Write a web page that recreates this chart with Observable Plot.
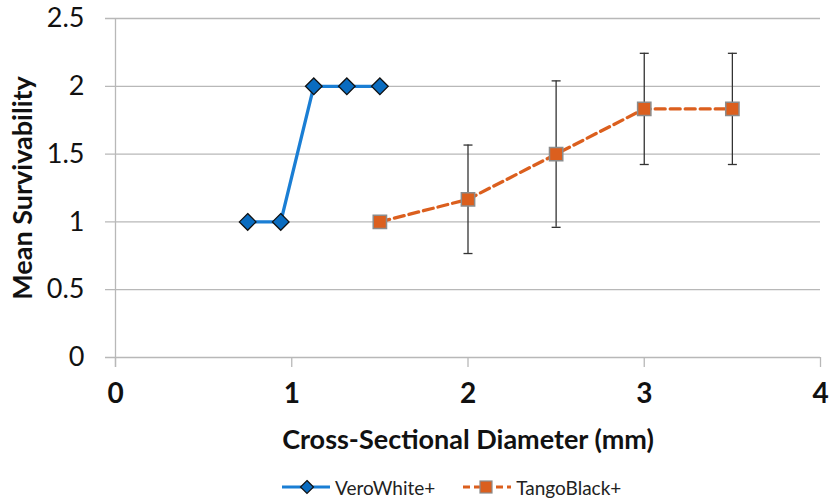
<!DOCTYPE html>
<html><head><meta charset="utf-8">
<script src="https://cdn.jsdelivr.net/npm/d3@7"></script>
<script src="https://cdn.jsdelivr.net/npm/@observablehq/plot@0.6"></script>
<style>
body{margin:0;background:#fff;font-family:Lato,"Open Sans",sans-serif;}
#wrap{position:relative;width:829px;height:499px;}
#legend{position:absolute;left:282px;top:475px;height:24px;display:flex;align-items:center;font-size:19px;color:#222;white-space:nowrap;}
.item{display:flex;align-items:center;}
.item span{margin-left:5px;}
</style></head><body>
<div id="wrap"><div id="chart"></div><div id="legend"></div></div>
<script>
const veroX = [0.75, 0.9375, 1.125, 1.3125, 1.5];
const veroY = [1, 1, 2, 2, 2];
const tangoX = [1.5, 2, 2.5, 3, 3.5];
const tangoY = [1, 1.1667, 1.5, 1.8333, 1.8333];
const tangoErr = [0, 0.4, 0.54, 0.41, 0.41];
const xTicks = [0, 1, 2, 3, 4];
const yTicks = [0, 0.5, 1, 1.5, 2, 2.5];
const seriesNames = ["VeroWhite+", "TangoBlack+"];
const xTitle = "Cross-Sectional Diameter (mm)";
const yTitle = "Mean Survivability";

const blue = "#1a7ed4", blueFill = "#0a6cc0", orange = "#db5f1e";
const vero = veroX.map((x, i) => ({x, y: veroY[i]}));
const tango = tangoX.map((x, i) => ({x, y: tangoY[i], e: tangoErr[i]}));
const tangoE = tango.filter(d => d.e > 0);
const capSym = {draw(ctx, size){ const w = 4.5; ctx.moveTo(-w, 0); ctx.lineTo(w, 0); }};
const font = 'Lato,"Open Sans",sans-serif';

const chart = Plot.plot({
  width: 829, height: 472,
  marginLeft: 115, marginRight: 9, marginTop: 18, marginBottom: 115,
  x: {domain: [0, 4]},
  y: {domain: [0, 2.5]},
  style: {fontFamily: font, background: "#fff"},
  marks: [
    Plot.ruleY(yTicks, {stroke: "#b8b8b8", strokeWidth: 1.3, insetLeft: -10}),
    Plot.ruleX([0], {stroke: "#b8b8b8", strokeWidth: 1.3, insetBottom: -10}),
    Plot.axisX({ticks: xTicks, tickSize: 10, stroke: "#b8b8b8", strokeWidth: 1.3, tickPadding: 16,
      fontSize: 28, fontWeight: "bold", fill: "#111", label: null, tickFormat: d => String(d)}),
    Plot.axisY({ticks: yTicks, tickSize: 0, tickPadding: 31, fontSize: 27, fill: "#111", label: null,
      tickFormat: d => String(d)}),
    Plot.text([xTitle], {frameAnchor: "bottom", lineAnchor: "middle", dy: 83, fontSize: 27, fontWeight: "bold", fill: "#111"}),
    Plot.text([yTitle], {frameAnchor: "left", textAnchor: "middle", lineAnchor: "middle", rotate: -90, dx: -92, fontSize: 27, fontWeight: "bold", fill: "#111"}),
    Plot.ruleX(tangoE, {x: "x", y1: d => d.y - d.e, y2: d => d.y + d.e, stroke: "#333", strokeWidth: 1.3}),
    Plot.dot(tangoE, {x: "x", y: d => d.y - d.e, symbol: capSym, stroke: "#333", strokeWidth: 1.3, r: 4}),
    Plot.dot(tangoE, {x: "x", y: d => d.y + d.e, symbol: capSym, stroke: "#333", strokeWidth: 1.3, r: 4}),
    Plot.line(vero, {x: "x", y: "y", stroke: blue, strokeWidth: 3.3}),
    Plot.line(tango, {x: "x", y: "y", stroke: orange, strokeWidth: 3.3, strokeDasharray: "10,5"}),
    Plot.dot(vero, {x: "x", y: "y", symbol: "diamond2", r: 7.5, fill: blueFill, stroke: "#111", strokeWidth: 1.3}),
    Plot.dot(tango, {x: "x", y: "y", symbol: "square", r: 7.5, fill: orange, stroke: "#8c8c8c", strokeWidth: 1.5})
  ]
});
document.getElementById("chart").appendChild(chart);

const legend = document.getElementById("legend");
legend.innerHTML = `
<div class="item"><svg width="48" height="16"><line x1="0" y1="8" x2="48" y2="8" stroke="${blue}" stroke-width="3"/>
<path d="M25,1.5 L31.5,8 L25,14.5 L18.5,8 Z" fill="${blueFill}" stroke="#111" stroke-width="1.2"/></svg><span>${seriesNames[0]}</span></div>
<div class="item" style="margin-left:28px"><svg width="48" height="16"><line x1="0" y1="8" x2="48" y2="8" stroke="${orange}" stroke-width="3" stroke-dasharray="7,4"/>
<rect x="17" y="2" width="12" height="12" fill="${orange}" stroke="#8c8c8c" stroke-width="1.2"/></svg><span>${seriesNames[1]}</span></div>`;
</script>
</body></html>
